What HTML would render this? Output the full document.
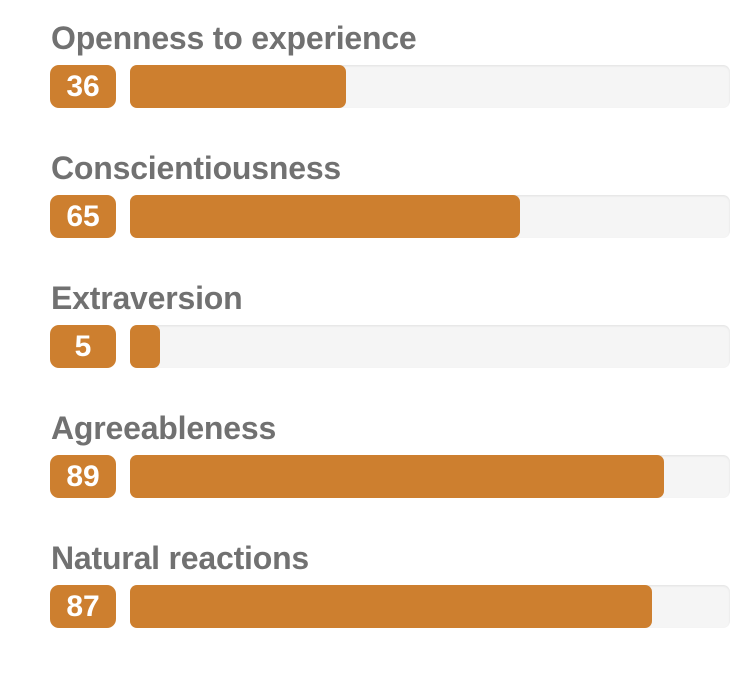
<!DOCTYPE html>
<html><head><meta charset="utf-8"><style>
body{margin:0;width:750px;height:687px;background:#fff;font-family:"Liberation Sans",Arial,sans-serif;position:relative;overflow:hidden}
.row{position:absolute;left:0;width:750px}
.title{position:absolute;left:51px;top:0px;font-size:32px;font-weight:bold;color:#717171;white-space:nowrap;letter-spacing:-0.2px}
.badge{position:absolute;left:50px;top:45px;width:66px;height:43px;border-radius:9px;background:#cd7f2f;color:#fff;font-weight:bold;font-size:30px;text-align:center;line-height:44px}
.track{position:absolute;left:130px;top:45px;width:600px;height:43px;border-radius:7px;background:#f5f5f5;box-shadow:inset 0 1px 2px rgba(0,0,0,0.08)}
.fill{position:absolute;left:0;top:0;height:43px;border-radius:7px;background:#cd7f2f}
</style></head><body>
<div id="chart"></div>
<script>
const labels=["Openness to experience","Conscientiousness","Extraversion","Agreeableness","Natural reactions"];
const values=[36,65,5,89,87];
const maxValue=100;
const chart=document.getElementById('chart');
labels.forEach((l,i)=>{
  const row=document.createElement('div');row.className='row';row.style.top=(20+130*i)+'px';
  
  
  const t=document.createElement('div');t.className='title';t.textContent=l;
  
  
  const b=document.createElement('div');b.className='badge';b.textContent=values[i];
  
  
  const tr=document.createElement('div');tr.className='track';
  
  
  const f=document.createElement('div');f.className='fill';f.style.width=(600*values[i]/maxValue)+'px';
  
  
  tr.appendChild(f);row.appendChild(t);row.appendChild(b);row.appendChild(tr);chart.appendChild(row);
});
</script>
</body></html>
